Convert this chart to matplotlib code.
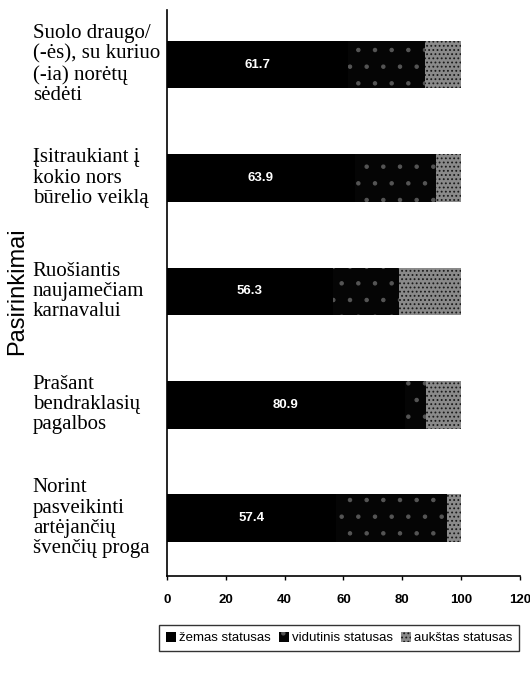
import matplotlib
matplotlib.use('Agg')
import matplotlib.pyplot as plt
import numpy as np

# data
categories = ['Suolo draugo/\n(-ės), su kuriuo\n(-ia) norėtų\nsėdėti',
              'Įsitraukiant į\nkokio nors\nbūrelio veiklą',
              'Ruošiantis\nnaujamečiam\nkarnavalui',
              'Prašant\nbendraklasių\npagalbos',
              'Norint\npasveikinti\nartėjančių\nšvenčių proga']
low = [61.7, 63.9, 56.3, 80.9, 57.4]
mid = [26.1, 27.6, 22.6, 7.0, 37.8]
high = [12.2, 8.5, 21.1, 12.1, 4.8]
series_names = ['žemas statusas', 'vidutinis statusas', 'aukštas statusas']
xticks = [0, 20, 40, 60, 80, 100, 120]

plt.rcParams['font.family'] = ['Liberation Sans', 'DejaVu Sans']
plt.rcParams['hatch.linewidth'] = 0.8

fig = plt.figure(figsize=(5.3, 6.8), dpi=100)
ax = fig.add_axes([0.315, 0.153, 0.666, 0.832])

y = np.arange(len(categories))
h = 0.42
b1 = ax.barh(y, low, height=h, color='black', edgecolor='black', linewidth=0,
             label=series_names[0])
b2 = ax.barh(y, mid, left=low, height=h, color='#050505', edgecolor='#555555',
             hatch='.', linewidth=0, label=series_names[1])
left2 = np.array(low) + np.array(mid)
b3 = ax.barh(y, high, left=left2, height=h, color='#8a8a8a', edgecolor='#1a1a1a',
             hatch='....', linewidth=0, label=series_names[2])

for yi, v in zip(y, low):
    ax.text(v / 2, yi, f'{v}', color='white', ha='center', va='center',
            fontsize=9.5, fontweight='bold')

ax.set_ylim(4.51, -0.48)
ax.set_xlim(0, 120)
ax.set_yticks([])
ax.set_xticks(xticks)
ax.set_xticklabels([str(t) for t in xticks], fontsize=9.5, fontweight='bold')
ax.tick_params(axis='x', length=3, width=1, pad=10)
for s in ['top', 'right']:
    ax.spines[s].set_visible(False)
ax.spines['left'].set_linewidth(1.2)
ax.spines['bottom'].set_linewidth(1.2)

tr = ax.get_yaxis_transform()
for yi, c in zip(y, categories):
    ax.text(-0.38, yi, c, transform=tr, ha='left', va='center',
            family='Liberation Serif', fontsize=15, linespacing=1.08)

fig.text(0.032, 1 - 291 / 680, 'Pasirinkimai', rotation=90, ha='center',
         va='center', fontsize=17)

leg = fig.legend(handles=[b1, b2, b3], labels=series_names, loc='center',
                 bbox_to_anchor=(0.64, 0.062), ncol=3, fontsize=9.5,
                 handlelength=0.8, handleheight=0.8, handletextpad=0.2,
                 columnspacing=0.6, fancybox=False, edgecolor='black',
                 borderpad=0.5)
leg.get_frame().set_linewidth(1.0)

fig.savefig('out.png', dpi=100)
